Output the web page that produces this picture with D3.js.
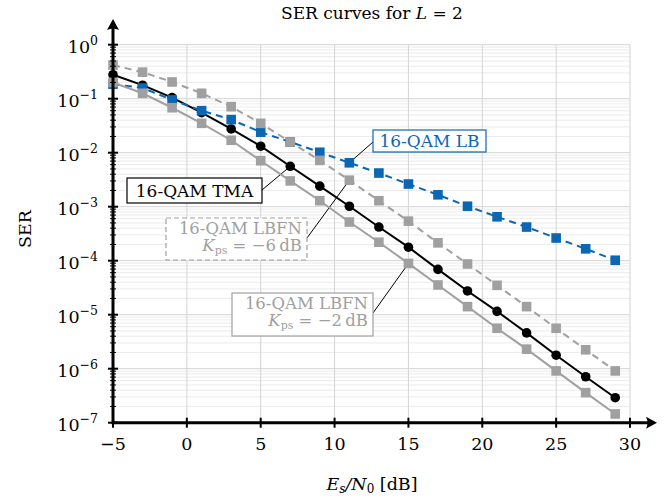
<!DOCTYPE html>
<html>
<head>
<meta charset="utf-8">
<script src="https://cdn.jsdelivr.net/npm/d3@7"></script>
<style>
  body { margin: 0; background: #fff; }
  svg text { font-family: "DejaVu Serif", "Liberation Serif", serif; }
</style>
</head>
<body>
<div id="chart"></div>
<script>
// Es/N0 sample points [dB]
var snr = [-5, -3, -1, 1, 3, 5, 7, 9, 11, 13, 15, 17, 19, 21, 23, 25, 27, 29];

// SER values
var serTMA  = [0.278, 0.178, 0.105, 0.055, 0.0275, 0.0132, 5.6e-3, 2.4e-3, 1.02e-3, 4.2e-4, 1.78e-4,
               6.9e-5, 2.75e-5, 1.15e-5, 4.6e-6, 1.78e-6, 7.1e-7, 2.9e-7];
var serLB   = [0.186, 0.158, 0.095, 0.060, 0.041, 0.024, 0.0158, 0.0102, 6.5e-3, 4.2e-3, 2.63e-3,
               1.66e-3, 1.02e-3, 6.5e-4, 4.2e-4, 2.63e-4, 1.66e-4, 1.02e-4];
var serLBFN6 = [0.42, 0.31, 0.204, 0.126, 0.071, 0.035, 0.0158, 7.2e-3, 3.1e-3, 1.29e-3, 5.4e-4,
                2.14e-4, 8.7e-5, 3.5e-5, 1.41e-5, 5.6e-6, 2.24e-6, 9.1e-7];
var serLBFN2 = [0.20, 0.126, 0.068, 0.035, 0.017, 7.1e-3, 3.0e-3, 1.29e-3, 5.2e-4, 2.2e-4, 8.9e-5,
                3.55e-5, 1.41e-5, 5.6e-6, 2.3e-6, 9.1e-7, 3.6e-7, 1.45e-7];

var xTicks = [-5, 0, 5, 10, 15, 20, 25, 30];
var yExps = [0, -1, -2, -3, -4, -5, -6, -7];

var blue = '#0b67b3';
var gray = '#a0a0a0';

var width = 672, height = 499;
var x = d3.scaleLinear().domain([-5, 30]).range([113, 630]);
var y = d3.scaleLog().domain([1e-7, 1]).range([422.7, 44.7]);

var svg = d3.select('#chart').append('svg')
    .attr('width', width)
    .attr('height', height);

// grid
var minorVals = [];
yExps.slice(1).forEach(function(e) {
    for (var k = 2; k <= 9; k++) minorVals.push(k * Math.pow(10, e));
});
svg.append('g').selectAll('line').data(minorVals).enter().append('line')
    .attr('x1', x(-5)).attr('x2', x(30))
    .attr('y1', d => y(d)).attr('y2', d => y(d))
    .style('stroke', '#ebebeb').style('stroke-width', 1);
svg.append('g').selectAll('line').data(yExps).enter().append('line')
    .attr('x1', x(-5)).attr('x2', x(30))
    .attr('y1', d => y(Math.pow(10, d))).attr('y2', d => y(Math.pow(10, d)))
    .style('stroke', '#d4d4d4').style('stroke-width', 1);
svg.append('g').selectAll('line').data(xTicks).enter().append('line')
    .attr('x1', d => x(d)).attr('x2', d => x(d))
    .attr('y1', y(1)).attr('y2', y(1e-7))
    .style('stroke', '#d4d4d4').style('stroke-width', 1);

// series
var series = [
    {vals: serTMA,  color: '#000', dash: null,  marker: 'circle'},
    {vals: serLB,   color: blue,   dash: '7,5', marker: 'square'},
    {vals: serLBFN6, color: gray,  dash: '7,5', marker: 'square'},
    {vals: serLBFN2, color: gray,  dash: null,  marker: 'square'}
];

var line = d3.line().x(d => x(d[0])).y(d => y(d[1]));

// callouts: box geometry and the point they point to
var callouts = [
    {lines: ['16-QAM TMA'], color: '#000', border: '#000', dashed: false,
     box: [127, 178, 135, 25], from: [262, 190], series: serTMA, idx: 6},
    {lines: ['16-QAM LB'], color: blue, border: blue, dashed: false,
     box: [373, 130, 113, 22], from: [373, 142], series: serLB, idx: 8},
    {lines: ['16-QAM LBFN', '−6'], color: gray, border: gray, dashed: true,
     box: [166, 218, 141, 42], from: [307, 238], series: serLBFN6, idx: 8},
    {lines: ['16-QAM LBFN', '−2'], color: gray, border: gray, dashed: false,
     box: [232, 293, 141, 43], from: [373, 313], series: serLBFN2, idx: 10}
];

// leader lines (below markers)
callouts.forEach(function(c) {
    svg.append('line')
        .attr('x1', c.from[0]).attr('y1', c.from[1])
        .attr('x2', x(snr[c.idx])).attr('y2', y(c.series[c.idx]))
        .style('stroke', '#000').style('stroke-width', 1);
});

series.forEach(function(s) {
    var pts = snr.map((v, i) => [v, s.vals[i]]);
    svg.append('path').datum(pts)
        .attr('d', line)
        .style('fill', 'none')
        .style('stroke', s.color)
        .style('stroke-width', 2)
        .style('stroke-dasharray', s.dash);
    if (s.marker === 'circle') {
        svg.append('g').selectAll('circle').data(pts).enter().append('circle')
            .attr('cx', d => x(d[0])).attr('cy', d => y(d[1]))
            .attr('r', 4.8).style('fill', s.color);
    } else {
        svg.append('g').selectAll('rect').data(pts).enter().append('rect')
            .attr('x', d => x(d[0]) - 4.8).attr('y', d => y(d[1]) - 4.8)
            .attr('width', 9.6).attr('height', 9.6).style('fill', s.color);
    }
});

// callout boxes
callouts.forEach(function(c) {
    var b = c.box;
    svg.append('rect')
        .attr('x', b[0]).attr('y', b[1]).attr('width', b[2]).attr('height', b[3])
        .style('fill', '#fff').style('stroke', c.border).style('stroke-width', 1.2)
        .style('stroke-dasharray', c.dashed ? '5,3' : null);
    if (c.lines.length === 1) {
        svg.append('text')
            .attr('x', b[0] + b[2] / 2).attr('y', b[1] + b[3] / 2 + 6)
            .attr('text-anchor', 'middle')
            .style('font-size', '17px').style('fill', c.color)
            .text(c.lines[0]);
    } else {
        svg.append('text')
            .attr('x', b[0] + b[2] - 5).attr('y', b[1] + 15.5)
            .attr('text-anchor', 'end')
            .style('font-size', '16.5px').style('fill', c.color)
            .text(c.lines[0]);
        var t = svg.append('text')
            .attr('x', b[0] + b[2] - 5).attr('y', b[1] + 33)
            .attr('text-anchor', 'end')
            .style('font-size', '16.5px').style('fill', c.color);
        t.append('tspan').style('font-style', 'italic').text('K');
        t.append('tspan').attr('dy', 3).style('font-size', '11px').text('ps');
        t.append('tspan').attr('dy', -3).text(' = ' + c.lines[1] + '\u2009dB');
    }
});

// axes
var axisG = svg.append('g');
axisG.append('line')
    .attr('x1', x(-5)).attr('x2', 650)
    .attr('y1', y(1e-7)).attr('y2', y(1e-7))
    .style('stroke', '#000').style('stroke-width', 3);
axisG.append('line')
    .attr('x1', x(-5)).attr('x2', x(-5))
    .attr('y1', y(1e-7) + 1.5).attr('y2', 26)
    .style('stroke', '#000').style('stroke-width', 3);
// arrow heads
var ax = 657, ay = y(1e-7);
axisG.append('path')
    .attr('d', 'M' + ax + ',' + ay + ' L' + (ax - 11) + ',' + (ay - 6) + ' Q' + (ax - 8) + ',' + ay + ' ' + (ax - 11) + ',' + (ay + 6) + ' Z')
    .style('fill', '#000');
var bx = x(-5), by = 19;
axisG.append('path')
    .attr('d', 'M' + bx + ',' + by + ' L' + (bx - 6) + ',' + (by + 11) + ' Q' + bx + ',' + (by + 8) + ' ' + (bx + 6) + ',' + (by + 11) + ' Z')
    .style('fill', '#000');

// x ticks
axisG.selectAll('.xt').data(xTicks).enter().append('line')
    .attr('x1', d => x(d)).attr('x2', d => x(d))
    .attr('y1', y(1e-7) - 5).attr('y2', y(1e-7) + 5)
    .style('stroke', '#000').style('stroke-width', 2);
axisG.selectAll('.xl').data(xTicks).enter().append('text')
    .attr('x', d => x(d)).attr('y', 450)
    .attr('text-anchor', 'middle')
    .style('font-size', '17.5px')
    .text(d => d < 0 ? '\u2212' + (-d) : d);

// y minor ticks
axisG.selectAll('.ym').data(minorVals).enter().append('line')
    .attr('x1', x(-5) - 3).attr('x2', x(-5) + 3)
    .attr('y1', d => y(d)).attr('y2', d => y(d))
    .style('stroke', '#000').style('stroke-width', 1);
axisG.selectAll('.yt').data(yExps).enter().append('line')
    .attr('x1', x(-5) - 5).attr('x2', x(-5) + 5)
    .attr('y1', d => y(Math.pow(10, d))).attr('y2', d => y(Math.pow(10, d)))
    .style('stroke', '#000').style('stroke-width', 2);
yExps.forEach(function(e) {
    var t = axisG.append('text')
        .attr('x', 98).attr('y', y(Math.pow(10, e)) + 8)
        .attr('text-anchor', 'end')
        .style('font-size', '17.5px');
    t.append('tspan').text('10');
    t.append('tspan').attr('dy', -8).style('font-size', '12.5px')
        .text(e === 0 ? '0' : '\u2212' + (-e));
});

// labels
svg.append('text')
    .attr('x', 372).attr('y', 19)
    .attr('text-anchor', 'middle')
    .style('font-size', '17px')
    .call(function(t) {
        t.append('tspan').text('SER curves for ');
        t.append('tspan').style('font-style', 'italic').text('L');
        t.append('tspan').text(' = 2');
    });

svg.append('text')
    .attr('transform', 'translate(31,229) rotate(-90)')
    .attr('text-anchor', 'middle')
    .style('font-size', '17.5px')
    .text('SER');

var xl = svg.append('text')
    .attr('x', 372).attr('y', 490)
    .attr('text-anchor', 'middle')
    .style('font-size', '17.5px');
xl.append('tspan').style('font-style', 'italic').text('E');
xl.append('tspan').attr('dy', 3).style('font-size', '12px').style('font-style', 'italic').text('s');
xl.append('tspan').attr('dy', -3).style('font-style', 'italic').text('/N');
xl.append('tspan').attr('dy', 3).style('font-size', '12px').text('0');
xl.append('tspan').attr('dy', -3).text(' [dB]');
</script>
</body>
</html>
